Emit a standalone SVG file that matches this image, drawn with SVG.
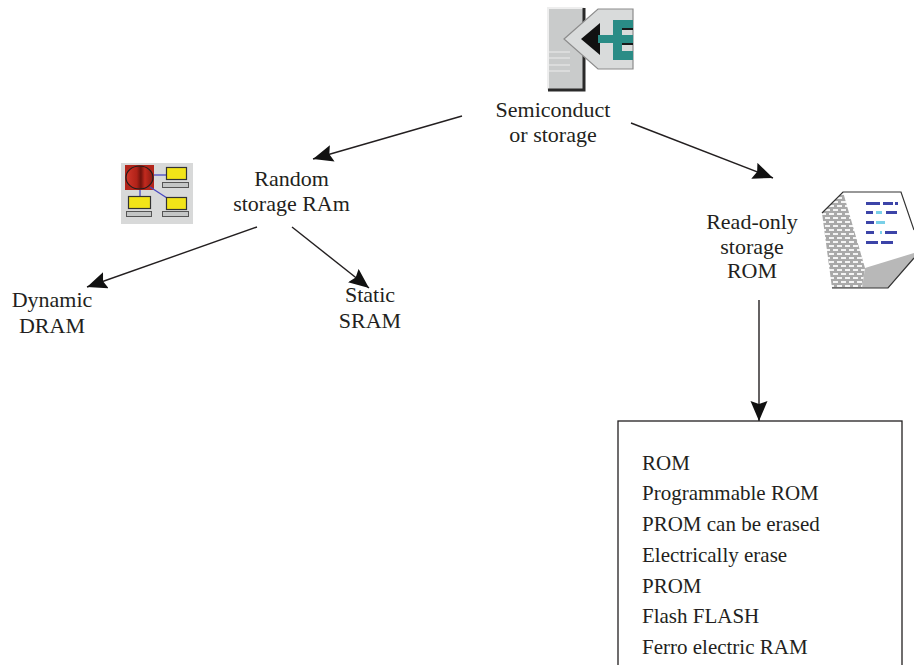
<svg xmlns="http://www.w3.org/2000/svg" width="914" height="665" viewBox="0 0 914 665">
  <defs>
    <style>
      .lbl { font-family: "Liberation Serif", "Times New Roman", serif; font-size: 22px; fill: #231f20; text-anchor: middle; }
      .item { font-family: "Liberation Serif", "Times New Roman", serif; font-size: 21px; fill: #231f20; }
      .edge { stroke: #231f20; stroke-width: 1.4; fill: none; marker-end: url(#arrow); }
      .wire { stroke: #4848c0; stroke-width: 1.3; }
      .screen { fill: #f2e418; stroke: #333; stroke-width: 1.2; }
      .base { fill: #c4c6c6; stroke: #555; stroke-width: 1; }
      .dash { fill: #3c44a8; }
      .dashlt { fill: #7ad0e8; }
    </style>
    <marker id="arrow" markerUnits="userSpaceOnUse" markerWidth="21" markerHeight="18" refX="20" refY="8.5" orient="auto">
      <path d="M0,0 L20,8.5 L0,17 L3,8.5 z" fill="#111"/>
    </marker>
    <linearGradient id="disk" x1="0" y1="0" x2="1" y2="0">
      <stop offset="0" stop-color="#d2362a"/>
      <stop offset="0.4" stop-color="#b02218"/>
      <stop offset="0.55" stop-color="#6e120c"/>
      <stop offset="0.7" stop-color="#c22a1e"/>
      <stop offset="1" stop-color="#8a1a12"/>
    </linearGradient>
    <pattern id="holes" width="8" height="8" patternUnits="userSpaceOnUse">
      <rect width="8" height="8" fill="#a9a9a9"/>
      <rect x="1" y="1" width="5" height="2" fill="#f4f4f4"/>
      <rect x="5" y="5" width="5" height="2" fill="#f4f4f4"/>
      <rect x="-3" y="5" width="5" height="2" fill="#f4f4f4"/>
    </pattern>
  </defs>

  <rect width="914" height="665" fill="#ffffff"/>

  <!-- connectors -->
  <g id="connectors">
    <line class="edge" x1="462" y1="116" x2="313" y2="159"/>
    <line class="edge" x1="631" y1="123" x2="773" y2="178"/>
    <line class="edge" x1="257" y1="227" x2="87" y2="287"/>
    <line class="edge" x1="292" y1="227" x2="369" y2="288"/>
    <line class="edge" x1="759" y1="300" x2="759" y2="421"/>
  </g>

  <!-- root: semiconductor storage -->
  <g id="semiconductor">
    <rect x="548" y="8" width="36" height="82" fill="#c9cbcb"/>
    <path d="M548,90 L548,8 L584,8" fill="none" stroke="#eeeeee" stroke-width="2"/>
    <path d="M584,8 L584,90 L548,90" fill="none" stroke="#2a2a2a" stroke-width="3"/>
    <g stroke="#e8e8e8" stroke-width="1.2">
      <line x1="549" y1="52" x2="570" y2="52"/>
      <line x1="549" y1="58" x2="570" y2="58"/>
      <line x1="549" y1="65" x2="570" y2="65"/>
      <line x1="549" y1="71" x2="570" y2="71"/>
    </g>
    <polygon points="564,39 598,9 633,9 633,69 598,69" fill="#d9dbdb" stroke="#8c8c8c" stroke-width="1.2"/>
    <polygon points="581,39 600,23 600,55" fill="#111"/>
    <rect x="598" y="35" width="17" height="8" fill="#2a8c86"/>
    <rect x="613" y="20" width="9" height="40" fill="#2a8c86"/>
    <rect x="613" y="20" width="20" height="8" fill="#2a8c86"/>
    <rect x="613" y="35" width="20" height="8" fill="#2a8c86"/>
    <rect x="613" y="51" width="20" height="9" fill="#2a8c86"/>
    <rect x="622" y="28" width="11" height="2" fill="#1a1a1a"/>
    <rect x="622" y="43" width="11" height="2" fill="#1a1a1a"/>
    <text class="lbl" x="553" y="117">Semiconduct</text>
    <text class="lbl" x="553" y="142">or storage</text>
  </g>

  <!-- random access storage -->
  <g id="ram">
    <rect x="121" y="163" width="72" height="61" fill="#d8d9d9"/>
    <rect x="125" y="165" width="29" height="25" fill="#b3251b"/>
    <ellipse cx="139.5" cy="177.5" rx="13.5" ry="11.5" fill="url(#disk)" stroke="#1e1e1e" stroke-width="1.2"/>
    <line class="wire" x1="154" y1="175" x2="166" y2="175"/>
    <line class="wire" x1="140" y1="190" x2="140" y2="197"/>
    <line class="wire" x1="150" y1="187" x2="167" y2="198"/>
    <rect class="screen" x="166.5" y="167.5" width="20" height="12"/>
    <rect class="base" x="162.5" y="182.5" width="26" height="5"/>
    <rect class="screen" x="128.5" y="196.5" width="22" height="12"/>
    <rect class="base" x="126.5" y="211.5" width="25" height="5"/>
    <rect class="screen" x="166.5" y="197.5" width="20" height="12"/>
    <rect class="base" x="162.5" y="211.5" width="26" height="5"/>
    <text class="lbl" x="291.5" y="186">Random</text>
    <text class="lbl" x="291.5" y="211">storage RAm</text>
  </g>

  <g id="dram">
    <text class="lbl" x="52" y="307">Dynamic</text>
    <text class="lbl" x="52" y="333">DRAM</text>
  </g>

  <g id="sram">
    <text class="lbl" x="370" y="302">Static</text>
    <text class="lbl" x="370" y="328">SRAM</text>
  </g>

  <!-- read-only storage -->
  <g id="rom">
    <polygon points="843,192 901,192 914,230 914,258 888,288 832,288 822,213" fill="#ffffff"/>
    <polygon points="843,192 822,213 832,288 862,288 865,268" fill="url(#holes)"/>
    <polygon points="865,268 914,253 914,258 888,288 862,288" fill="#b8b8b8"/>
    <polyline points="822,213 843,192 901,192 914,230" fill="none" stroke="#333" stroke-width="1.2"/>
    <polyline points="832,288 888,288 914,258" fill="none" stroke="#333" stroke-width="1.2"/>
    <g>
      <rect class="dash" x="866" y="202" width="14" height="3"/>
      <rect class="dash" x="883" y="202" width="10" height="3"/>
      <rect class="dash" x="895" y="202" width="3" height="3"/>
      <rect class="dash" x="866" y="211" width="7" height="3"/>
      <rect class="dashlt" x="876" y="211" width="6" height="3"/>
      <rect class="dash" x="886" y="211" width="11" height="3"/>
      <rect class="dash" x="866" y="221" width="8" height="3"/>
      <rect class="dashlt" x="876" y="221" width="9" height="3"/>
      <rect class="dash" x="866" y="231" width="8" height="3"/>
      <rect class="dashlt" x="880" y="231" width="2" height="3"/>
      <rect class="dash" x="885" y="231" width="12" height="3"/>
      <rect class="dash" x="866" y="241" width="12" height="3"/>
      <rect class="dash" x="881" y="241" width="12" height="3"/>
    </g>
    <text class="lbl" x="752" y="229">Read-only</text>
    <text class="lbl" x="752" y="254">storage</text>
    <text class="lbl" x="752" y="278">ROM</text>
  </g>

  <!-- kinds of read-only storage -->
  <g id="rom-types">
    <rect x="618" y="421" width="284" height="260" fill="none" stroke="#231f20" stroke-width="1.3"/>
    <text class="item" x="642" y="469.5">ROM</text>
    <text class="item" x="642" y="500.3">Programmable ROM</text>
    <text class="item" x="642" y="531">PROM can be erased</text>
    <text class="item" x="642" y="561.8">Electrically erase</text>
    <text class="item" x="642" y="592.6">PROM</text>
    <text class="item" x="642" y="623.4">Flash FLASH</text>
    <text class="item" x="642" y="654.2">Ferro electric RAM</text>
  </g>
</svg>
